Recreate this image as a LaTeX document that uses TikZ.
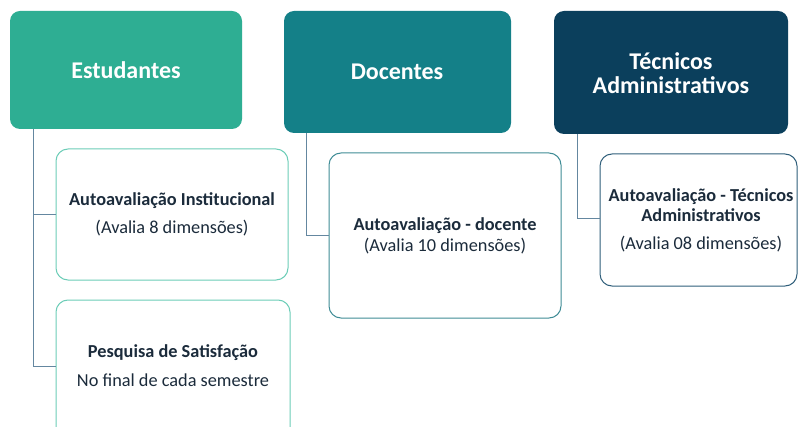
\documentclass[tikz,border=0pt]{standalone}
\usepackage{fontspec}
\setmainfont{Carlito}
\definecolor{cEst}{HTML}{2EAE93}
\definecolor{cDoc}{HTML}{148088}
\definecolor{cTec}{HTML}{0B3F5C}
\definecolor{bEst}{HTML}{6CCDB7}
\definecolor{bDoc}{HTML}{3F8C96}
\definecolor{bTec}{HTML}{2F5E7A}
\definecolor{ctext}{HTML}{1B2B3B}
\definecolor{cline}{HTML}{6487A0}
\begin{document}
\begin{tikzpicture}[x=1pt,y=-1pt,
  head/.style={rounded corners=10pt,inner sep=0pt},
  headtext/.style={text=white,font=\fontsize{24}{24}\selectfont\bfseries,align=center},
  childbox/.style={rounded corners=12pt,fill=white,line width=1pt},
  childtext/.style={text=ctext,align=center},
  conn/.style={draw=cline,line width=1pt}]
\useasboundingbox (0,0) rectangle (799,427);
\fill[white] (0,0) rectangle (799,427);
% headers
\fill[cEst,head] (10,11) rectangle (242,129);
\fill[cDoc,head] (284,11) rectangle (511,133);
\fill[cTec,head] (554,11) rectangle (788,134);
\node[headtext] (est) at (126,70) {Estudantes};
\node[headtext] (doc) at (397,72) {Docentes};
\node[headtext] (tec) at (671,73) {Técnicos\\Administrativos};
\coordinate (estb) at (33,129);
\coordinate (docb) at (306,133);
\coordinate (tecb) at (577,134);
% children boxes
\draw[childbox,draw=bEst] (56,149) rectangle (288,280);
\draw[childbox,draw=bEst] (56,300) rectangle (290,440);
\draw[childbox,draw=bDoc] (329,153) rectangle (561,318);
\draw[childbox,draw=bTec] (600,154) rectangle (797,286);
\node[childtext,font=\fontsize{18.3}{28}\selectfont] (c1) at (172,214)
  {\textbf{Autoavaliação Institucional}\\(Avalia 8 dimensões)};
\node[childtext,font=\fontsize{18.3}{29}\selectfont] (c2) at (173,366)
  {\textbf{Pesquisa de Satisfação}\\No final de cada semestre};
\node[childtext,font=\fontsize{18.3}{21}\selectfont] (c3) at (445,236)
  {\textbf{Autoavaliação - docente}\\(Avalia 10 dimensões)};
\node[childtext,font=\fontsize{18.3}{20}\selectfont] (c4) at (701,220)
  {\textbf{Autoavaliação - Técnicos}\\\textbf{Administrativos}\\[8pt](Avalia 08 dimensões)};
\coordinate (c1l) at (56,215);
\coordinate (c2l) at (56,366);
\coordinate (c3l) at (329,236);
\coordinate (c4l) at (600,219);
% connectors
\draw[conn] (estb) |- (c2l);
\draw[conn] (estb |- c1l) -- (c1l);
\draw[conn] (docb) |- (c3l);
\draw[conn] (tecb) |- (c4l);
\end{tikzpicture}
\end{document}
